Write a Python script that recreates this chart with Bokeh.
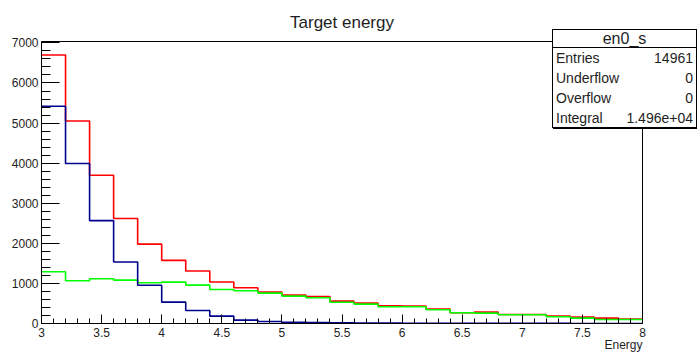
from bokeh.plotting import figure
from bokeh.layouts import column
from bokeh.models import SingleIntervalTicker, Range1d, Title, Div
from bokeh.embed import file_html
from bokeh.resources import INLINE

# Histogram bin edges (Energy) and bin contents for the three samples
energy_edges = [3.0, 3.2, 3.4, 3.6, 3.8, 4.0, 4.2, 4.4, 4.6, 4.8, 5.0,
                5.2, 5.4, 5.6, 5.8, 6.0, 6.2, 6.4, 6.6, 6.8, 7.0,
                7.2, 7.4, 7.6, 7.8, 8.0]
red_counts = [6700, 5050, 3700, 2620, 1980, 1575, 1310, 1035, 890, 783,
              708, 675, 558, 508, 442, 433, 358, 267, 283, 225,
              225, 183, 158, 133, 108]
green_counts = [1290, 1067, 1117, 1083, 1017, 1033, 958, 850, 817, 758,
                683, 642, 530, 483, 417, 417, 342, 267, 258, 217,
                217, 167, 133, 100, 100]
blue_counts = [5420, 3990, 2567, 1533, 955, 533, 325, 183, 83, 50,
               30, 22, 16, 12, 9, 7, 5, 4, 3, 3,
               2, 2, 1, 1, 1]

title_text = "Target energy"
x_title = "Energy"
stats_name = "en0_s"
stats_rows = [("Entries", "14961"), ("Underflow", "0"),
              ("Overflow", "0"), ("Integral", "1.496e+04")]

FONT = "Liberation Sans"
TXT = "#1e1e1e"

W, H = 697, 354
LEFT, RIGHT, TOP, BOTTOM = 41, 55, 41, 31

p = figure(width=W, height=H, output_backend="svg", toolbar_location=None,
           x_range=Range1d(3, 8), y_range=Range1d(0, 7035),
           min_border_left=LEFT, min_border_right=RIGHT,
           min_border_top=TOP, min_border_bottom=BOTTOM)
p.background_fill_color = "white"
p.border_fill_color = "white"
p.outline_line_color = "black"
p.outline_line_width = 1
p.xgrid.visible = False
p.ygrid.visible = False

p.title.text = title_text
p.title.align = "center"
p.title.text_font = FONT
p.title.text_font_size = "17px"
p.title.text_font_style = "normal"
p.title.text_color = TXT
p.title.standoff = 20

# ROOT-like axes: ticks pointing into the frame
xa = p.xaxis[0]
xa.ticker = SingleIntervalTicker(interval=0.5, num_minor_ticks=5)
xa.major_tick_in = 9
xa.major_tick_out = 0
xa.minor_tick_in = 5
xa.minor_tick_out = 0
xa.major_label_standoff = 4

ya = p.yaxis[0]
ya.ticker = SingleIntervalTicker(interval=1000, num_minor_ticks=5)
ya.major_tick_in = 18
ya.major_tick_out = 0
ya.minor_tick_in = 9
ya.minor_tick_out = 0
ya.major_label_standoff = 3

for ax in (xa, ya):
    ax.axis_line_color = "black"
    ax.major_tick_line_color = "black"
    ax.minor_tick_line_color = "black"
    ax.major_label_text_font = FONT
    ax.major_label_text_font_size = "12px"
    ax.major_label_text_color = TXT

p.add_layout(Title(text=x_title, align="right", text_font=FONT,
                   text_font_size="12px", text_font_style="normal",
                   text_color=TXT, standoff=-7, offset=0), "below")

# Histograms drawn as step outlines
def hist_step(counts, color):
    ys = list(counts) + [counts[-1]]
    p.step(x=energy_edges, y=ys, mode="after", line_color=color, line_width=1.6)

hist_step(red_counts, "#ff0000")
hist_step(green_counts, "#00ff00")
hist_step(blue_counts, "#00008f")

# Statistics box overlaid on the top-right corner of the canvas
row_html = "".join(
    f'<div style="display:flex;justify-content:space-between;height:20px;'
    f'line-height:20px;padding:0 3px 0 3px;">'
    f'<span>{name}</span><span>{val}</span></div>'
    for name, val in stats_rows)
stats_html = (
    f'<div style="width:145px;height:99px;box-sizing:border-box;'
    f'border:1px solid #000;background:#fff;box-shadow:1px 1px 0 #000;'
    f'font-family:\'{FONT}\';color:{TXT};font-size:14px;">'
    f'<div style="height:18px;line-height:18px;text-align:center;'
    f'font-size:16px;border-bottom:1px solid #000;">{stats_name}</div>'
    f'{row_html}</div>')
stats = Div(text=stats_html, width=146, height=100,
            styles={"position": "absolute", "left": "552px", "top": "29px",
                    "margin": "0", "padding": "0"})

layout = column(p, stats)
open("out.html", "w").write(file_html(layout, INLINE))
